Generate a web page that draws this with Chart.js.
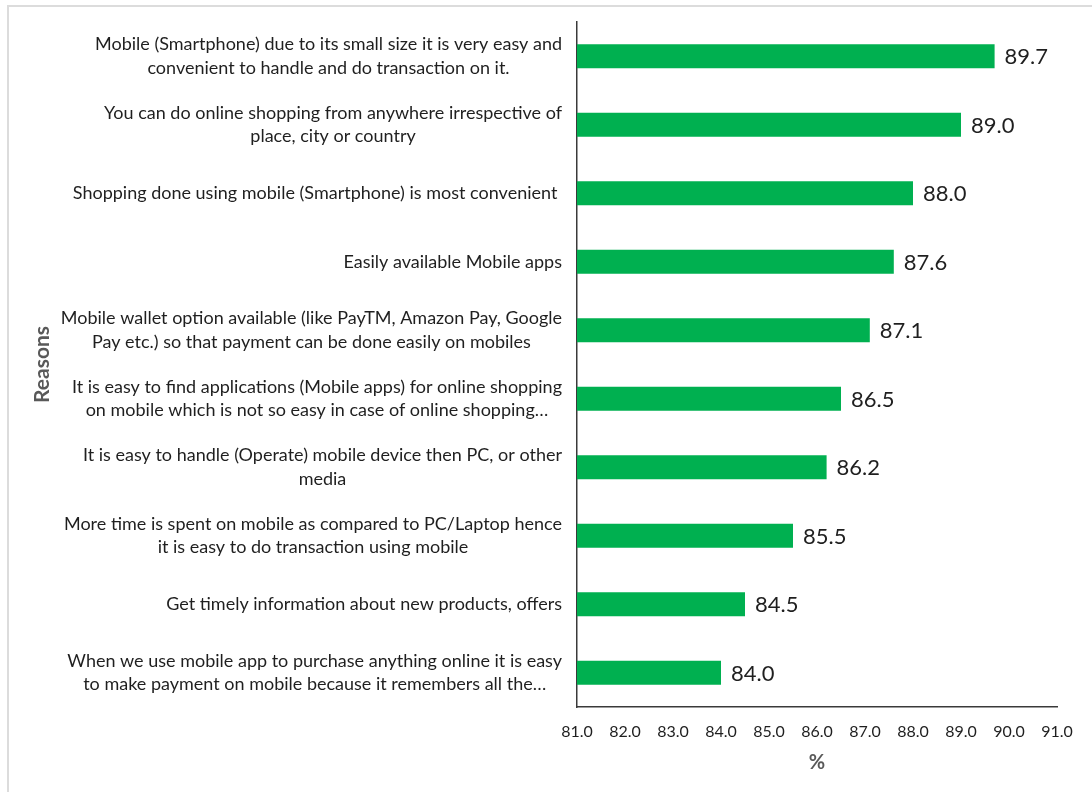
<!DOCTYPE html>
<html lang="en">
<head>
    <meta charset="UTF-8">
    <title>Reasons for mobile shopping</title>
    <script src="https://cdn.jsdelivr.net/npm/chart.js"></script>
    <style>
        body {
            margin: 0;
            background: #fff;
        }
        .wrap {
            position: relative;
            width: 1092px;
            height: 792px;
        }
        .frame {
            position: absolute;
            left: 7px;
            top: 5px;
            right: 0;
            bottom: 0;
            border-top: 2px solid #dcdcdc;
            border-left: 2px solid #dcdcdc;
            pointer-events: none;
        }
    </style>
</head>
<body>
    <div class="wrap">
        <canvas id="reasonsChart" width="1092" height="792"></canvas>
        <div class="frame"></div>
    </div>

    <script>
        const reasons = [
            ["Mobile (Smartphone) due to its small size it is very easy and", "convenient to handle and do transaction on it."],
            ["You can do online shopping from anywhere irrespective of", "place, city or country"],
            ["Shopping done using mobile (Smartphone) is most convenient "],
            ["Easily available Mobile apps"],
            ["Mobile wallet option available (like PayTM, Amazon Pay, Google", "Pay etc.) so that payment can be done easily on mobiles"],
            ["It is easy to find applications (Mobile apps) for online shopping", "on mobile which is not so easy in case of online shopping…"],
            ["It is easy to handle (Operate) mobile device then PC, or other", "media"],
            ["More time is spent on mobile as compared to PC/Laptop hence", "it is easy to do transaction using mobile"],
            ["Get timely information about new products, offers"],
            ["When we use mobile app to purchase anything online it is easy", "to make payment on mobile because it remembers all the…"]
        ];
        const percentages = [89.7, 89.0, 88.0, 87.6, 87.1, 86.5, 86.2, 85.5, 84.5, 84.0];

        const axisMin = 81;
        const axisMax = 91;
        const axisStep = 1;

        const labelFont = '18px Lato';
        const textColor = '#1f1f1f';

        // category labels: block sits against the axis, lines centred inside the block
        const reasonLabels = {
            id: 'reasonLabels',
            afterDraw(chart) {
                const y = chart.scales.y;
                const ctx = chart.ctx;
                const rightEdge = chart.chartArea.left - 15;
                const lineGap = 23.5;
                ctx.save();
                ctx.font = labelFont;
                ctx.fillStyle = textColor;
                ctx.textAlign = 'center';
                ctx.textBaseline = 'middle';
                reasons.forEach((lines, i) => {
                    const cy = y.getPixelForValue(i);
                    const w = Math.max(...lines.map(l => ctx.measureText(l).width));
                    const cx = rightEdge - w / 2;
                    const top = cy - (lines.length - 1) * lineGap / 2;
                    lines.forEach((line, k) => ctx.fillText(line, cx, top + k * lineGap));
                });
                ctx.restore();
            }
        };

        // value printed just past the end of each bar
        const barValues = {
            id: 'barValues',
            afterDatasetsDraw(chart) {
                const ctx = chart.ctx;
                const meta = chart.getDatasetMeta(0);
                ctx.save();
                ctx.font = '22px Lato';
                ctx.fillStyle = textColor;
                ctx.textAlign = 'left';
                ctx.textBaseline = 'middle';
                meta.data.forEach((bar, i) => {
                    ctx.fillText(percentages[i].toFixed(1), bar.x + 10, bar.y + 1);
                });
                ctx.restore();
            }
        };

        const ctx = document.getElementById('reasonsChart').getContext('2d');
        new Chart(ctx, {
            type: 'bar',
            data: {
                labels: reasons,
                datasets: [{
                    data: percentages,
                    backgroundColor: '#00b050',
                    barPercentage: 0.7,
                    categoryPercentage: 0.5
                }]
            },
            options: {
                indexAxis: 'y',
                responsive: false,
                animation: false,
                layout: {
                    padding: { left: 20, top: 22, right: 35, bottom: 17 }
                },
                plugins: {
                    legend: { display: false },
                    tooltip: { enabled: false }
                },
                scales: {
                    x: {
                        min: axisMin,
                        max: axisMax,
                        grid: { display: false, drawTicks: false },
                        border: { display: true, color: '#3a3a3a', width: 1.5 },
                        ticks: {
                            stepSize: axisStep,
                            padding: 15,
                            color: textColor,
                            font: { family: 'Lato', size: 16 },
                            callback: v => Number(v).toFixed(1)
                        },
                        afterFit(scale) {
                            scale.height = 68;
                        },
                        title: {
                            display: true,
                            text: '%',
                            color: '#595959',
                            font: { family: 'Lato', size: 20, weight: 'bold' },
                            padding: { top: 0, bottom: 0 }
                        }
                    },
                    y: {
                        grid: { display: false, drawTicks: false },
                        border: { display: true, color: '#3a3a3a', width: 1.5 },
                        ticks: { display: false },
                        afterFit(scale) {
                            scale.width = 557;
                        },
                        title: {
                            display: true,
                            text: 'Reasons',
                            color: '#595959',
                            font: { family: 'Lato', size: 21, weight: 'bold' },
                            padding: { top: 10, bottom: 0 }
                        }
                    }
                }
            },
            plugins: [reasonLabels, barValues]
        });
    </script>
</body>
</html>
